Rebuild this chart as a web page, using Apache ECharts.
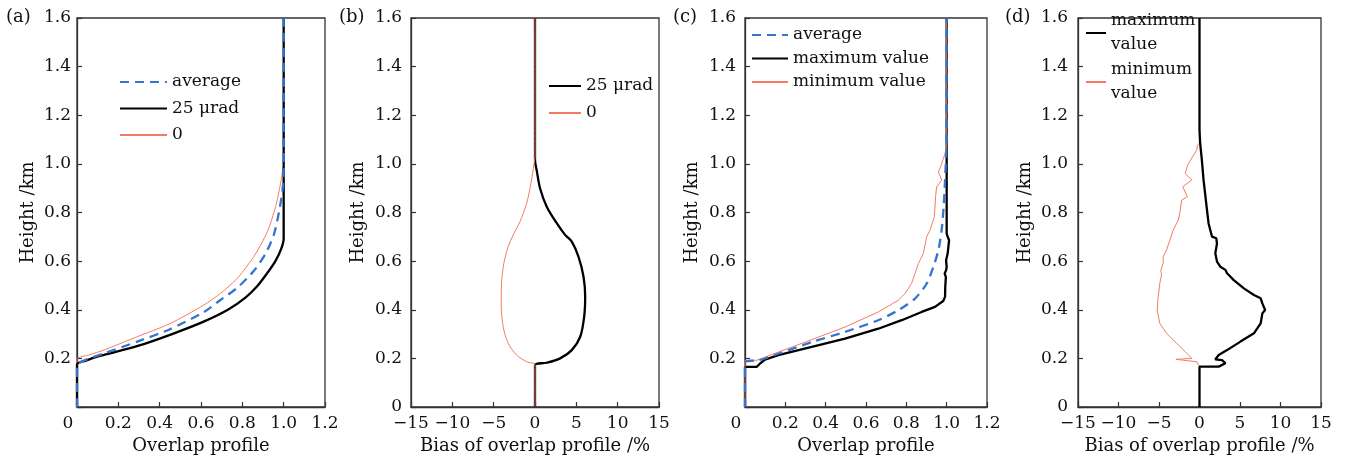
<!DOCTYPE html>
<html>
<head>
<meta charset="utf-8">
<script src="https://cdn.jsdelivr.net/npm/echarts@6/dist/echarts.min.js"></script>
<style>
  html, body { margin: 0; padding: 0; background: #fff; }
  #chart { width: 1347px; height: 463px; }
</style>
</head>
<body>
<div id="chart"></div>
<script>
// (a) overlap profiles
const aAvgH = [0, 0.17, 0.195, 0.22, 0.27, 0.32, 0.39, 0.44, 0.49, 0.56, 0.63, 0.71, 0.80, 0.89, 0.975, 1.6]
const aAvgV = [0, 0, 0.045, 0.13, 0.295, 0.45, 0.613, 0.694, 0.775, 0.856, 0.912, 0.953, 0.977, 0.994, 1.0, 1.0]
const a25H = [0, 0.175, 0.19, 0.21, 0.25, 0.30, 0.35, 0.40, 0.45, 0.50, 0.55, 0.60, 0.65, 0.693, 1.6]
const a25V = [0, 0, 0.04, 0.11, 0.29, 0.46, 0.61, 0.73, 0.815, 0.875, 0.92, 0.96, 0.988, 1.0, 1.0]
const a0H = [0, 0.195, 0.215, 0.233, 0.288, 0.343, 0.419, 0.467, 0.529, 0.619, 0.721, 0.824, 0.92, 0.982, 1.0, 1.6]
const a0V = [0, 0, 0.062, 0.126, 0.288, 0.45, 0.613, 0.694, 0.775, 0.856, 0.921, 0.961, 0.985, 0.997, 1.0, 1.0]

// (b) bias of overlap profile, %
const b25H = [0, 0.173, 0.182, 0.2, 0.234, 0.289, 0.372, 0.454, 0.536, 0.618, 0.68, 0.708, 0.756, 0.824, 0.9, 0.975, 1.016, 1.6]
const b25V = [0, 0, 1.42, 3.04, 4.45, 5.47, 5.95, 6.07, 5.87, 5.26, 4.45, 3.64, 2.63, 1.42, 0.61, 0.2, 0, 0]
const b0H = [0, 0.173, 0.186, 0.214, 0.262, 0.33, 0.426, 0.509, 0.591, 0.66, 0.708, 0.762, 0.838, 0.92, 1.0, 1.03, 1.6]
const b0V = [0, 0, -1.01, -2.23, -3.24, -3.85, -4.09, -4.05, -3.77, -3.24, -2.63, -1.82, -1.01, -0.49, -0.12, 0, 0]

// (c) measured overlap profiles
const cAvgH = [0, 0.185, 0.192, 0.219, 0.267, 0.309, 0.357, 0.398, 0.446, 0.508, 0.576, 0.645, 0.727, 0.823, 0.933, 1.03, 1.1, 1.6]
const cAvgV = [0, 0, 0.066, 0.165, 0.331, 0.496, 0.661, 0.760, 0.843, 0.901, 0.934, 0.959, 0.975, 0.985, 0.992, 0.997, 1.0, 1.0]
const cMaxH = [0, 0.165, 0.165, 0.178, 0.195, 0.213, 0.247, 0.281, 0.322, 0.357, 0.391, 0.412, 0.436, 0.453, 0.494, 0.535, 0.549, 0.562, 0.576, 0.604, 0.631, 0.686, 0.700, 0.713, 1.6]
const cMaxV = [0, 0, 0.058, 0.074, 0.099, 0.165, 0.331, 0.496, 0.661, 0.777, 0.876, 0.942, 0.983, 0.992, 0.993, 0.996, 0.990, 0.997, 1.0, 0.997, 1.005, 1.012, 1.005, 1.0, 1.0]
const cMinH = [0, 0.192, 0.192, 0.226, 0.277, 0.329, 0.391, 0.439, 0.466, 0.508, 0.549, 0.59, 0.631, 0.70, 0.727, 0.782, 0.864, 0.905, 0.933, 0.967, 1.0, 1.043, 1.07, 1.6]
const cMinV = [0, 0, 0.058, 0.165, 0.331, 0.496, 0.661, 0.760, 0.793, 0.826, 0.843, 0.86, 0.884, 0.901, 0.917, 0.939, 0.945, 0.950, 0.975, 0.959, 0.975, 0.992, 1.0, 1.0]

// (d) bias of measured profiles, %
const dMaxH = [0, 0.166, 0.166, 0.18, 0.193, 0.196, 0.214, 0.234, 0.269, 0.303, 0.344, 0.385, 0.399, 0.426, 0.447, 0.461, 0.488, 0.522, 0.55, 0.564, 0.577, 0.598, 0.632, 0.673, 0.694, 0.701, 0.755, 0.838, 0.934, 1.016, 1.085, 1.14, 1.6]
const dMaxV = [0, 0, 2.37, 3.2, 2.78, 1.95, 2.37, 3.4, 5.06, 6.72, 7.55, 7.76, 8.1, 7.76, 7.55, 6.72, 5.48, 4.23, 3.4, 3.2, 2.57, 2.16, 1.95, 2.16, 2.07, 1.54, 1.12, 0.83, 0.5, 0.29, 0.08, 0, 0]
const dMinH = [0, 0.166, 0.186, 0.196, 0.20, 0.228, 0.262, 0.303, 0.344, 0.399, 0.454, 0.509, 0.543, 0.564, 0.591, 0.618, 0.646, 0.687, 0.728, 0.769, 0.803, 0.851, 0.865, 0.906, 0.934, 0.961, 1.002, 1.057, 1.078, 1.085, 1.6]
const dMinV = [0, 0, -0.33, -2.9, -0.95, -1.78, -2.82, -4.07, -4.9, -5.23, -5.1, -4.9, -4.69, -4.77, -4.48, -4.48, -4.07, -3.65, -3.24, -2.61, -2.41, -2.2, -1.49, -2.07, -0.95, -1.78, -1.37, -0.33, -0.25, 0, 0]

const panelLabels = ['(a)', '(b)', '(c)', '(d)']
const profileName = 'Overlap profile'
const biasName = 'Bias of overlap profile /%'
const heightName = 'Height /km'

const FONT = 'DejaVu Serif'
const AXIS = '#333'
const BLACK = '#000'
const BLUE = '#3574d0'
const RED = '#f47a62'

function pairs(vals, hs) {
  return vals.map((v, i) => [v, hs[i]])
}

const grids = [
  { left: 77, width: 248 },
  { left: 411, width: 248 },
  { left: 745, width: 242 },
  { left: 1078, width: 243 },
].map(g => ({ ...g, top: 18, height: 389, show: true, borderColor: AXIS, borderWidth: 1.3, outerBoundsMode: 'none' }))

function xAxisFor(idx, isBias) {
  return {
    type: 'value',
    gridIndex: idx,
    min: isBias ? -15 : 0,
    max: isBias ? 15 : 1.2,
    interval: isBias ? 5 : 0.2,
    name: isBias ? biasName : profileName,
    nameLocation: 'middle',
    nameGap: 30,
    nameMoveOverlap: false,
    nameTextStyle: { fontFamily: FONT, fontSize: 18, color: '#111' },
    axisLine: { show: true, onZero: false, lineStyle: { color: AXIS, width: 1.3 } },
    axisTick: { show: true, inside: true, length: 5, lineStyle: { color: AXIS, width: 1.2 } },
    splitLine: { show: false },
    axisLabel: {
      margin: 8,
      fontFamily: FONT,
      fontSize: 17,
      color: '#111',
      formatter: v => {
        if (isBias) return v < 0 ? '\u2212' + Math.abs(v) : String(v)
        return v === 0 ? '{z|0}' : v.toFixed(1)
      },
      rich: { z: { fontFamily: FONT, fontSize: 17, color: '#111', padding: [0, 18, 0, 0] } },
    },
  }
}

function yAxisFor(idx, showZero, gap, margin) {
  return {
    type: 'value',
    gridIndex: idx,
    min: 0,
    max: 1.6,
    interval: 0.2,
    name: heightName,
    nameLocation: 'middle',
    nameGap: gap,
    nameMoveOverlap: false,
    nameTextStyle: { fontFamily: FONT, fontSize: 18, color: '#111' },
    axisLine: { show: true, onZero: false, lineStyle: { color: AXIS, width: 1.3 } },
    axisTick: { show: true, inside: true, length: 5, lineStyle: { color: AXIS, width: 1.2 } },
    splitLine: { show: false },
    axisLabel: {
      margin: margin,
      fontFamily: FONT,
      fontSize: 17,
      color: '#111',
      formatter: v => (v === 0 ? (showZero ? '0' : '') : v.toFixed(1)),
    },
  }
}

function line(name, idx, data, color, width, opts) {
  return Object.assign({
    name: name,
    type: 'line',
    xAxisIndex: idx,
    yAxisIndex: idx,
    data: data,
    symbol: 'none',
    silent: true,
    lineStyle: { color: color, width: width, type: 'solid' },
    itemStyle: { color: color },
  }, opts || {})
}

const legendText = { fontFamily: FONT, fontSize: 17, color: '#111', lineHeight: 22 }
// hide the symbol the line legend icon carries; keep only the line
const legendItem = { color: 'rgba(0,0,0,0)', borderWidth: 0, opacity: 0 }

const option = {
  animation: false,
  backgroundColor: '#fff',
  title: panelLabels.map((t, i) => ({
    text: t,
    left: [6, 339, 673, 1005][i],
    top: 8,
    padding: 0,
    textStyle: { fontFamily: FONT, fontSize: 18, fontWeight: 'normal', color: '#111' },
  })),
  grid: grids,
  xAxis: [xAxisFor(0, false), xAxisFor(1, true), xAxisFor(2, false), xAxisFor(3, true)],
  yAxis: [yAxisFor(0, false, 40, 6), yAxisFor(1, true, 44, 9), yAxisFor(2, false, 44, 9), yAxisFor(3, true, 44, 10)],
  legend: [
    {
      data: ['average', '25 μrad', '0'],
      orient: 'vertical', left: 119, top: 71, padding: 0,
      itemWidth: 47, itemHeight: 14, itemGap: 4.5, selectedMode: false,
      itemStyle: legendItem,
      textStyle: legendText,
    },
    {
      data: ['25 μrad', '0'],
      orient: 'vertical', left: 548, top: 75, padding: 0,
      itemWidth: 32, itemHeight: 14, itemGap: 5, selectedMode: false,
      itemStyle: legendItem,
      textStyle: legendText,
    },
    {
      data: ['average', 'maximum value', 'minimum value'],
      orient: 'vertical', left: 751, top: 24, padding: 0,
      itemWidth: 36, itemHeight: 14, itemGap: 1.5, selectedMode: false,
      itemStyle: legendItem,
      textStyle: legendText,
    },
    {
      data: ['maximum value', 'minimum value'],
      orient: 'vertical', left: 1085, top: -3, padding: 0,
      itemWidth: 20, itemHeight: 14, itemGap: -23, selectedMode: false,
      itemStyle: legendItem,
      formatter: n => n.replace(' ', '\n'),
      textStyle: Object.assign({}, legendText, { lineHeight: 24, padding: [24, 0, 0, 0] }),
    },
  ],
  series: [
    line('average', 0, pairs(aAvgV, aAvgH), BLUE, 2.3, { smooth: 0.25, z: 4, lineStyle: { color: BLUE, width: 2.3, type: [9, 6] } }),
    line('25 μrad', 0, pairs(a25V, a25H), BLACK, 2.3, { smooth: 0.25, z: 3 }),
    line('0', 0, pairs(a0V, a0H), RED, 1, { smooth: 0.25, z: 2 }),

    line('25 μrad', 1, pairs(b25V, b25H), BLACK, 2.3, { smooth: 0.3, z: 2 }),
    line('0', 1, pairs(b0V, b0H), RED, 1, { smooth: 0.3, z: 3 }),

    line('average', 2, pairs(cAvgV, cAvgH), BLUE, 2.3, { smooth: 0.25, z: 4, lineStyle: { color: BLUE, width: 2.3, type: [9, 6] } }),
    line('maximum value', 2, pairs(cMaxV, cMaxH), BLACK, 2.3, { z: 2 }),
    line('minimum value', 2, pairs(cMinV, cMinH), RED, 1, { z: 3 }),

    line('maximum value', 3, pairs(dMaxV, dMaxH), BLACK, 2.3, { z: 3 }),
    line('minimum value', 3, pairs(dMinV, dMinH), RED, 1, { z: 2 }),
  ],
}

const chart = echarts.init(document.getElementById('chart'), null, { renderer: 'canvas' })
chart.setOption(option)
</script>
</body>
</html>
